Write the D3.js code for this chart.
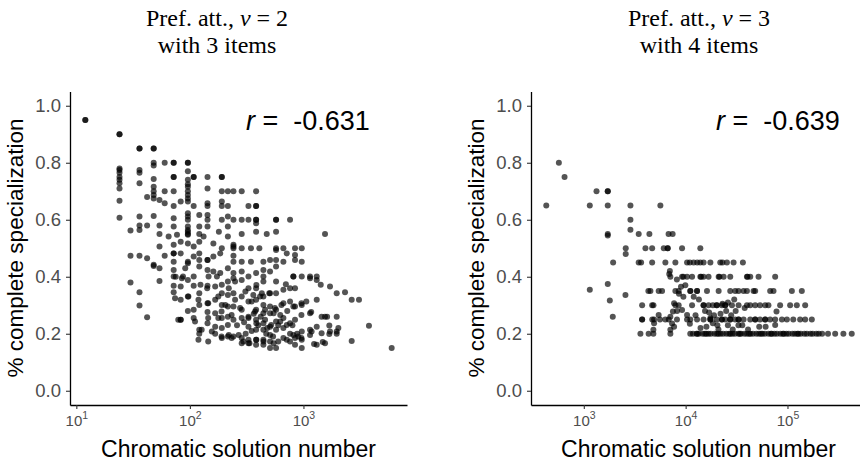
<!DOCTYPE html>
<html>
<head>
<meta charset="utf-8">
<script src="https://cdn.jsdelivr.net/npm/d3@7"></script>
<style>
  body { margin: 0; background: #fff; }
</style>
</head>
<body>
<div id="chart"></div>
<script>
// values: [chromatic solution number, share of complete specialization]
var leftPoints = [
  [12,.95],[12,.95],[24,.90],[24,.90],[36,.85],[36,.85],[48,.85],[48,.85],
  [48,.80],[60,.80],[72,.80],[72,.80],[96,.80],[96,.80],
  [24,.78],[24,.775],[24,.765],[36,.775],[36,.765],[48,.79],[96,.77],
  [24,.75],[48,.743],[72,.75],[72,.75],[96,.74],[108,.75],[108,.75],[143,.75],[191,.75],[191,.75],
  [24,.728],[24,.74],[36,.728],[48,.716],[96,.716],[96,.725],[143,.71],[24,.71],
  [48,.70],[60,.70],[72,.70],[96,.70],[96,.687],[191,.70],[216,.70],[242,.70],[286,.70],[383,.70],
  [42,.68],[48,.687],[48,.675],[54,.669],[60,.658],[72,.648],[83,.664],[96,.675],[96,.664],[108,.648],
  [143,.658],[143,.648],[191,.664],[191,.648],[216,.648],[328,.648],[383,.648],[383,.648],[24,.667],
  [24,.607],[36,.611],[48,.613],[72,.605],[96,.623],[96,.611],[96,.60],[121,.617],[143,.617],[143,.60],
  [191,.60],[216,.611],[242,.60],[286,.60],[328,.60],[383,.60],[383,.60],[574,.60],[574,.60],[762,.60],
  [36,.58],[42,.58],[54,.58],[72,.576],[96,.576],[96,.564],[121,.576],[143,.576],[216,.576],[383,.588],
  [30,.562],[36,.564],[54,.55],[65,.541],[77,.547],[96,.558],[96,.547],[96,.55],[121,.55],[132,.541],
  [180,.558],[216,.541],[286,.55],[383,.558],[475,.55],[574,.558],[1549,.55],
  [54,.506],[72,.512],[83,.523],[96,.517],[108,.506],[121,.523],[161,.517],[191,.50],[242,.512],[242,.506],
  [242,.50],[286,.50],[345,.50],[409,.50],[574,.50],[574,.494],[666,.50],[843,.50],[966,.50],
  [30,.474],[36,.474],[42,.465],[60,.474],[72,.482],[72,.482],[72,.453],[83,.482],[96,.453],[96,.447],
  [108,.471],[121,.482],[121,.459],[143,.459],[143,.459],[161,.471],[185,.482],[242,.474],[242,.453],
  [286,.453],[345,.453],[444,.453],[508,.459],[574,.459],[666,.453],[713,.482],[843,.476],[843,.459],[966,.453],
  [48,.442],[48,.438],[54,.43],[72,.424],[91,.43],[121,.436],[143,.424],[161,.418],[185,.413],[216,.43],
  [242,.413],[286,.418],[383,.413],[444,.424],[508,.418],[574,.436],
  [72,.401],[87,.401],[108,.401],[146,.401],[173,.401],[242,.395],[328,.401],[444,.401],[815,.401],[815,.401],
  [966,.401],[1143,.401],[1309,.401],
  [30,.38],[36,.346],[36,.299],[42,.258],[54,.385],[72,.368],[72,.346],[83,.366],[83,.319],[83,.249],[83,.249],
  [96,.389],[96,.331],[96,.28],[108,.368],[108,.284],[108,.255],[121,.342],[121,.301],[121,.214],[121,.2],
  [143,.368],[143,.307],[143,.276],[143,.237],[167,.366],[167,.319],[167,.272],[167,.225],[167,.2],
  [191,.372],[191,.342],[191,.301],[191,.255],[191,.22],[191,.185],[216,.383],[216,.336],[216,.296],
  [216,.26],[216,.231],[216,.19],[242,.342],[242,.296],[242,.249],[242,.19],[286,.389],[286,.331],
  [286,.284],[286,.255],[286,.185],[328,.36],[328,.313],[328,.255],[328,.225],[328,.179],[328,.167],
  [383,.36],[383,.319],[383,.284],[383,.249],[383,.214],[383,.179],[383,.161],[444,.383],[444,.331],
  [444,.301],[444,.272],[444,.237],[444,.214],[444,.179],[444,.161],[508,.342],[508,.296],[508,.272],
  [508,.225],[508,.196],[508,.173],[508,.15],[574,.383],[574,.342],[574,.284],[574,.243],[574,.214],
  [574,.15],[666,.354],[666,.307],[666,.255],[666,.22],[666,.185],[762,.36],[762,.313],[762,.237],
  [762,.2],[762,.173],[843,.36],[843,.296],[843,.249],[843,.185],[843,.161],[966,.301],[966,.208],
  [966,.179],[966,.15],[1143,.395],[1143,.272],[1143,.214],[1143,.196],[1309,.389],[1309,.319],
  [1309,.225],[1309,.161],[1420,.372],[1549,.26],[1549,.167],[1714,.366],[1714,.208],[1963,.342],
  [1963,.26],[1963,.208],[1963,.2],[2324,.346],[2660,.319],[2660,.175],[3084,.319],[3776,.228],[5985,.15],
  [700,.374],[500,.342],[415,.331],[350,.313],[1060,.313],[960,.307],[815,.296],[640,.301],[560,.29],
  [1170,.276],[1445,.26],[1616,.26],[960,.266],[1690,.229],[1690,.199],[2030,.22],[1445,.202],[1180,.208],
  [1480,.171],[1240,.164],[960,.185],[900,.19],[815,.196],[713,.179],[600,.173],[546,.167],[445,.173],
  [385,.179],[335,.167],[296,.173],[713,.231],[625,.243],[520,.231],[459,.249],[385,.237],[328,.26],
  [375,.278],[459,.284],[546,.272],[625,.266],[277,.29],[308,.348],[362,.336],[430,.342],[385,.371],
  [75,.40],[85,.395],[124,.372],[142,.36],[220,.36],[250,.383],[74,.325],[97,.331],[119,.319],[145,.307],
  [178,.331],[205,.301],[250,.319],[233,.266],[190,.278],[79,.249],[111,.243],[127,.214],[156,.208],
  [220,.196],[269,.196],[145,.255],[178,.255],[119,.179],[145,.173],[190,.19],[233,.185],[286,.167],
  [260,.23],[300,.24],[350,.21],[400,.23],[420,.26],[480,.22],[540,.19],[600,.23],[720,.28],[800,.23],
  [880,.20],[365,.27],[310,.20],[470,.20]
];

var rightPoints = [
  [569,.80],[647,.75],[1333,.70],[1719,.70],[1719,.70],
  [428,.65],[1145,.65],[1719,.65],[2870,.65],[5650,.65],[2870,.60],[2870,.565],
  [1719,.55],[1719,.545],[3460,.55],[4406,.55],[6800,.55],[7450,.55],
  [2580,.50],[2580,.48],[4029,.50],[4690,.50],[6100,.50],[6660,.50],[6660,.50],[9220,.50],[13940,.50],
  [1941,.45],[3460,.45],[3653,.45],[4690,.45],[6324,.45],[7930,.45],[10330,.45],[11000,.45],[11980,.45],
  [13000,.45],[13940,.45],[15000,.45],[17500,.45],[21880,.45],[23000,.45],[25430,.45],[29560,.45],[36500,.45],
  [7000,.42],[6900,.41],
  [7080,.40],[9220,.40],[9500,.40],[10330,.40],[11570,.40],[13940,.40],[14200,.40],[15000,.40],[16790,.40],
  [21090,.40],[21500,.40],[23600,.40],[27420,.40],[39980,.40],[40500,.40],[43100,.40],[52000,.40],[75700,.40],
  [8200,.39],[1719,.375],[9930,.37],[9000,.365],
  [1145,.354],[4306,.35],[4510,.35],[5433,.35],[5870,.35],[7930,.35],[8540,.35],[11120,.35],[11120,.35],
  [12940,.35],[12940,.35],[16200,.35],[21090,.35],[27420,.35],[30700,.35],[33100,.35],[37050,.35],
  [39980,.35],[46450,.35],[48200,.35],[67600,.35],[72900,.35],[110400,.35],[138300,.35],
  [2564,.336],[1800,.317],
  [3740,.30],[4690,.30],[4830,.30],[7930,.30],[8540,.30],[11570,.30],[15000,.30],[15000,.30],[16790,.30],
  [18500,.30],[20200,.30],[20200,.30],[22700,.30],[24500,.30],[24500,.30],[28500,.30],[33100,.30],
  [39980,.30],[43100,.30],[48200,.30],[53800,.30],[60400,.30],[65000,.30],[84700,.30],[106200,.30],
  [123500,.30],[149200,.30],[1925,.26],
  [3740,.25],[3740,.25],[4700,.25],[4900,.25],[5600,.25],[6324,.25],[6830,.25],[8220,.25],[10330,.25],
  [11120,.25],[12940,.25],[15000,.25],[17500,.25],[17500,.25],[20200,.25],[22700,.25],[22700,.25],
  [24500,.25],[27420,.25],[27420,.25],[30700,.25],[33100,.25],[33100,.25],[37050,.25],[43100,.25],
  [48200,.25],[48200,.25],[53800,.25],[60400,.25],[60400,.25],[67600,.25],[75700,.25],[88200,.25],
  [98700,.25],[114000,.25],[133100,.25],[149200,.25],[173400,.25],
  [4900,.237],[4822,.214],[7080,.214],[7700,.225],[7500,.278],[7700,.307],[5433,.266],[9220,.283],
  [10330,.266],[9500,.33],[8600,.34],[12000,.33],[13500,.32],[15500,.28],[17000,.275],[19000,.265],
  [17500,.255],[18500,.237],[20500,.23],[16000,.225],[22000,.27],[25000,.28],[28000,.265],[31000,.28],
  [26000,.23],[33000,.23],[36000,.23],[38000,.29],[30000,.32],[26000,.31],[23000,.305],[52800,.225],
  [75700,.231],[78000,.278],[14000,.22],[11000,.235],[12500,.265],[21000,.215],[41000,.215],[29000,.215],
  [61000,.225],[7360,.236],[7080,.26],[8240,.28],
  [3597,.20],[4330,.20],[4822,.20],[7080,.20],[11100,.20],[11800,.20],[12800,.20],[13500,.20],[14700,.20],
  [15500,.20],[16800,.20],[17700,.20],[19200,.20],[20300,.20],[22000,.20],[23300,.20],[25100,.20],
  [26700,.20],[28800,.20],[30500,.20],[33000,.20],[35000,.20],[37800,.20],[40000,.20],[43300,.20],
  [45800,.20],[49500,.20],[52500,.20],[56800,.20],[60000,.20],[65000,.20],[68800,.20],[74400,.20],
  [78800,.20],[85200,.20],[90200,.20],[97500,.20],[103000,.20],[111700,.20],[118200,.20],[128000,.20],
  [135000,.20],[146500,.20],[155000,.20],[168000,.20],[177000,.20],[192000,.20],[203000,.20],
  [219000,.20],[250000,.20],[294000,.20],[354100,.20],[427500,.20],
  [13000,.20],[16000,.20],[21000,.20],[27500,.20],[34000,.20],[42000,.20],[55000,.20],[70000,.20],
  [92000,.20],[125000,.20]
];

var yTicks = [0, 0.2, 0.4, 0.6, 0.8, 1.0];
var leftXTicks = [10, 100, 1000];
var rightXTicks = [1000, 10000, 100000];
var titleLine1 = ["Pref. att., ", "v", " = 2"];
var titleLine1b = ["Pref. att., ", "v", " = 3"];
var titleLine2 = ["with 3 items", "with 4 items"];
var rLabels = ["-0.631", "-0.639"];
var xTitle = "Chromatic solution number";
var yTitle = "% complete specialization";

var W = 860, H = 466;
var SANS = "'Liberation Sans', Arial, Helvetica, sans-serif";
var SERIF = "'Liberation Serif', 'Times New Roman', serif";

var svg = d3.select("#chart").append("svg")
  .attr("width", W).attr("height", H)
  .style("background", "#fff");

// ggplot style: continuous scale expanded by 5% of the data range (log space for x)
function logDomain(points) {
  var ext = d3.extent(points, function(d) { return Math.log10(d[0]); });
  var pad = (ext[1] - ext[0]) * 0.05;
  return [Math.pow(10, ext[0] - pad), Math.pow(10, ext[1] + pad)];
}

function drawPanel(points, cfg) {
  var g = svg.append("g");
  var x = d3.scaleLog().domain(logDomain(points)).range([cfg.x0, cfg.x1]);
  var y = d3.scaleLinear().domain([-0.05, 1.05]).range([405, 91.5]);

  // points
  g.append("g").selectAll("circle")
    .data(points)
    .enter()
    .append("circle")
    .attr("cx", function(d) { return x(d[0]); })
    .attr("cy", function(d) { return y(d[1]); })
    .attr("r", 3)
    .attr("fill", "#000")
    .attr("fill-opacity", 0.67);

  // y axis
  var yAxis = d3.axisLeft(y).tickValues(yTicks).tickSize(4).tickSizeOuter(0)
    .tickPadding(5).tickFormat(d3.format(".1f"));
  var ya = g.append("g").attr("transform", "translate(" + cfg.x0 + ",0)").call(yAxis);
  ya.select(".domain").attr("stroke", "#000").attr("stroke-width", 1.3);
  ya.selectAll(".tick line").attr("stroke", "#333").attr("stroke-width", 1.1);
  ya.selectAll(".tick text").attr("fill", "#4d4d4d").attr("font-family", SANS).attr("font-size", 18.5);

  // x axis with 10^k labels
  var xAxis = d3.axisBottom(x).tickValues(cfg.xTicks).tickSize(4).tickSizeOuter(0).tickFormat("");
  var xa = g.append("g").attr("transform", "translate(0,405)").call(xAxis);
  xa.select(".domain").attr("stroke", "#000").attr("stroke-width", 1.3);
  xa.selectAll(".tick line").attr("stroke", "#333").attr("stroke-width", 1.1);
  xa.selectAll(".tick text")
    .attr("fill", "#4d4d4d").attr("font-family", SANS).attr("font-size", 15)
    .attr("y", 21).attr("dy", null)
    .each(function(d) {
      var t = d3.select(this);
      t.append("tspan").text("10");
      t.append("tspan").attr("dy", -7).attr("font-size", 10.5).text(Math.round(Math.log10(d)));
    });

  // axis titles
  g.append("text")
    .attr("x", (cfg.x0 + Math.min(cfg.x1, W)) / 2 + cfg.xTitleShift).attr("y", 457)
    .attr("text-anchor", "middle")
    .attr("font-family", SANS).attr("font-size", 23).attr("fill", "#000")
    .text(xTitle);
  g.append("text")
    .attr("transform", "translate(" + (cfg.x0 - 47) + ",248) rotate(-90)")
    .attr("text-anchor", "middle")
    .attr("font-family", SANS).attr("font-size", 22.5).attr("fill", "#000")
    .text(yTitle);

  // panel title
  var t1 = g.append("text")
    .attr("x", cfg.titleX).attr("y", 25.5)
    .attr("text-anchor", "middle")
    .attr("font-family", SERIF).attr("font-size", 24).attr("fill", "#000");
  t1.append("tspan").text(cfg.title[0]);
  t1.append("tspan").attr("font-style", "italic").text(cfg.title[1]);
  t1.append("tspan").text(cfg.title[2]);
  g.append("text")
    .attr("x", cfg.titleX).attr("y", 53)
    .attr("text-anchor", "middle")
    .attr("font-family", SERIF).attr("font-size", 24).attr("fill", "#000")
    .text(cfg.subtitle);

  // correlation label
  var r = g.append("text")
    .attr("x", cfg.rX).attr("y", 130)
    .attr("font-family", SANS).attr("font-size", 27).attr("fill", "#000");
  r.append("tspan").attr("font-style", "italic").text("r");
  r.append("tspan").text("\u00a0=\u00a0\u00a0" + cfg.r);
}

drawPanel(leftPoints, {
  x0: 70, x1: 407, xTicks: leftXTicks, xTitleShift: 0,
  title: titleLine1, subtitle: titleLine2[0], titleX: 217,
  r: rLabels[0], rX: 246
});
drawPanel(rightPoints, {
  x0: 531, x1: 867, xTicks: rightXTicks, xTitleShift: 3,
  title: titleLine1b, subtitle: titleLine2[1], titleX: 699,
  r: rLabels[1], rX: 716
});
</script>
</body>
</html>
